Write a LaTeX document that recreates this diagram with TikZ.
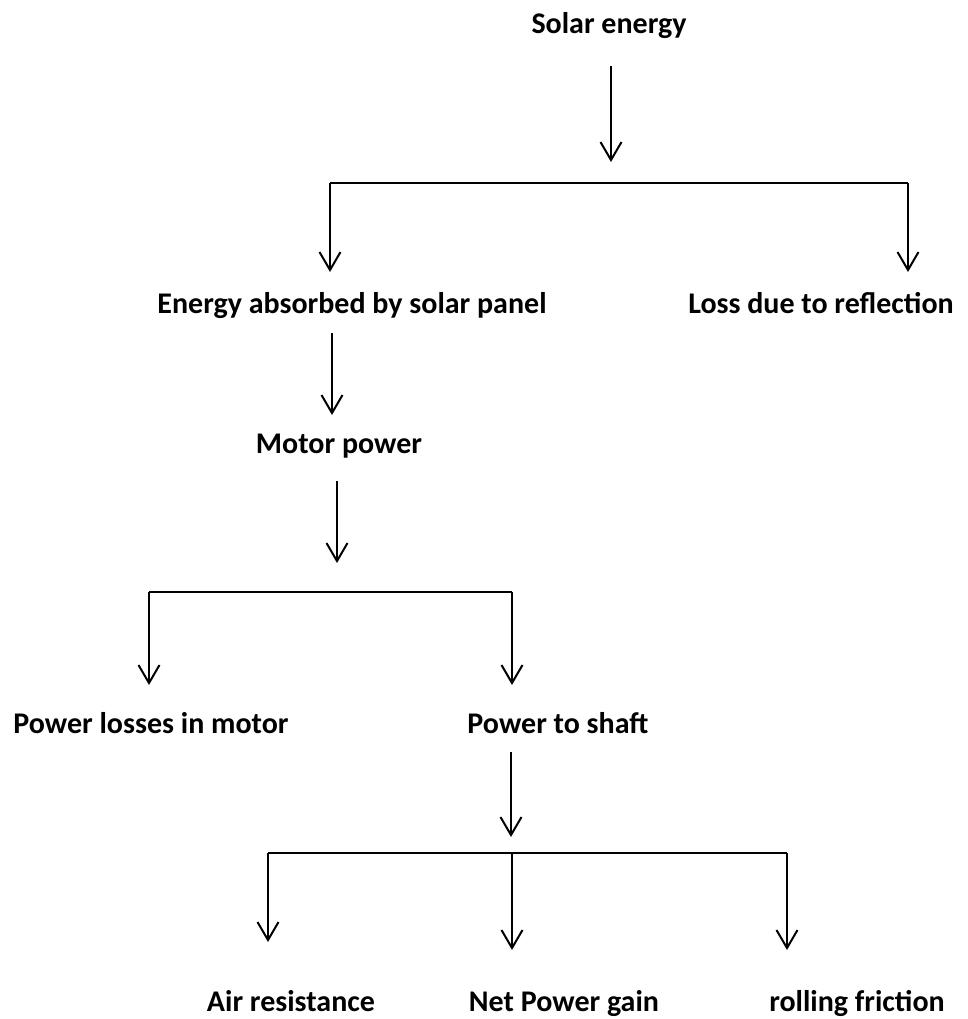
\documentclass[tikz,border=0pt]{standalone}
\usepackage{fontspec}
\setmainfont{Carlito}
\usepackage{tikz}
\usetikzlibrary{positioning, arrows.meta}

\begin{document}
\begin{tikzpicture}[x=0.5pt, y=-0.5pt, txt/.style={font=\fontsize{15}{18}\selectfont\bfseries, anchor=base, inner sep=0pt}, flow/.style={-{Straight Barb[length=9pt, width=10.5pt]}, line width=1pt}, bar/.style={line width=1pt}]
    \useasboundingbox (0,0) rectangle (968,1019);

    \node[txt] (Solar) at (609,33) {Solar energy};
    \node[txt] (Panel) at (352,313) {Energy absorbed by solar panel};
    \node[txt] (Refl) at (821,313) {Loss due to reflection};
    \node[txt] (Motor) at (339,453) {Motor power};
    \node[txt] (MLoss) at (151,733) {Power losses in motor};
    \node[txt] (Shaft) at (558,733) {Power to shaft};
    \node[txt] (Air) at (291,1011) {Air resistance};
    \node[txt] (Net) at (564,1011) {Net Power gain};
    \node[txt] (Roll) at (857,1011) {rolling friction};

    % first split
    \coordinate (s1) at (611,66);
    \coordinate (s1e) at (611,162);
    \coordinate (b1l) at (330,183);
    \coordinate (b1r) at (908,183);
    \coordinate (p1) at (330,272);
    \coordinate (p2) at (908,272);
    \draw[flow] (s1) -- (s1e);
    \draw[bar] (b1l) -- (b1r);
    \draw[flow] (b1l) -- (p1);
    \draw[flow] (b1r) -- (p2);

    % panel to motor
    \coordinate (s2) at (332,333);
    \coordinate (s2e) at (332,415);
    \draw[flow] (s2) -- (s2e);

    % second split
    \coordinate (s3) at (337,481);
    \coordinate (s3e) at (337,563);
    \coordinate (b2l) at (149,592);
    \coordinate (b2r) at (512,592);
    \coordinate (p3) at (149,685);
    \coordinate (p4) at (512,685);
    \draw[flow] (s3) -- (s3e);
    \draw[bar] (b2l) -- (b2r);
    \draw[flow] (b2l) -- (p3);
    \draw[flow] (b2r) -- (p4);

    % third split
    \coordinate (s4) at (511,752);
    \coordinate (s4e) at (511,837);
    \coordinate (b3l) at (268,853);
    \coordinate (b3m) at (512,853);
    \coordinate (b3r) at (787,853);
    \coordinate (p5) at (268,942);
    \coordinate (p6) at (512,950);
    \coordinate (p7) at (787,950);
    \draw[flow] (s4) -- (s4e);
    \draw[bar] (b3l) -- (b3r);
    \draw[flow] (b3l) -- (p5);
    \draw[flow] (b3m) -- (p6);
    \draw[flow] (b3r) -- (p7);
\end{tikzpicture}
\end{document}
